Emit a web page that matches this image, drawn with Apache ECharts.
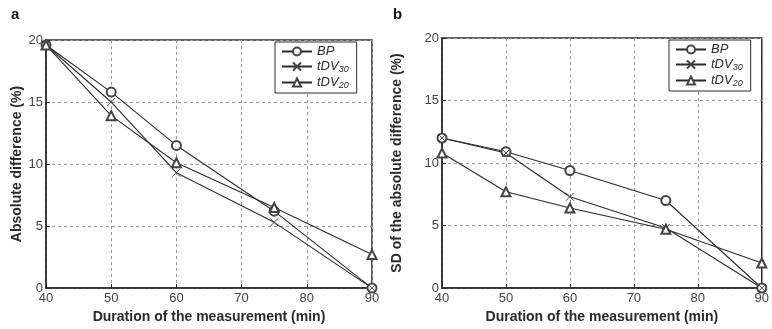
<!DOCTYPE html>
<html>
<head>
<meta charset="utf-8">
<script src="https://cdn.jsdelivr.net/npm/echarts@6/dist/echarts.min.js"></script>
<style>
  html, body { margin: 0; padding: 0; background: #fff; }
  #chart { width: 772px; height: 329px; }
</style>
</head>
<body>
<div id="chart"></div>
<script>
// durations (min) on the x axis
const durations = [40, 50, 60, 75, 90];
const seriesNames = ["BP", "tDV30", "tDV20"];

// panel a: absolute difference (%)
const absBP = [19.6, 15.8, 11.5, 6.2, 0];
const absTDV30 = [19.6, 15.0, 9.3, 5.3, 0];
const absTDV20 = [19.6, 13.9, 10.1, 6.5, 2.7];

// panel b: SD of the absolute difference (%)
const sdBP = [12.0, 10.9, 9.4, 7.0, 0];
const sdTDV30 = [12.0, 10.8, 7.3, 4.8, 0];
const sdTDV20 = [10.8, 7.7, 6.4, 4.7, 2.0];

const ink = "#2a2a2a";
const font = "Liberation Sans, Arial, sans-serif";

const crossPath = "path://M0,0L10,10M10,0L0,10";
const symbols = ["emptyCircle", crossPath, "emptyTriangle"];

const pairs = (ys) => durations.map((d, i) => [d, ys[i]]);

function makeSeries(values, idx) {
  return values.map((ys, k) => ({
    name: seriesNames[k],
    type: "line",
    xAxisIndex: idx,
    yAxisIndex: idx,
    data: pairs(ys),
    symbol: symbols[k],
    symbolSize: k === 1 ? 8 : 9,
    showSymbol: true,
    lineStyle: { color: ink, width: 1.1 },
    itemStyle: { color: "#444", borderColor: "#444", borderWidth: 1 },
    emphasis: { disabled: true },
    animation: false,
    z: 3,
  }));
}

function xAxis(idx) {
  return {
    type: "value",
    gridIndex: idx,
    min: 40,
    max: 90,
    interval: 10,
    name: "Duration of the measurement (min)",
    nameLocation: "middle",
    nameGap: 19,
    nameTextStyle: { fontFamily: font, fontWeight: "bold", fontSize: 14, color: ink },
    axisLine: { show: true, lineStyle: { color: ink, width: 1.5 } },
    axisTick: { show: true, inside: true, length: 4, lineStyle: { color: ink } },
    axisLabel: { fontFamily: font, fontSize: 13, color: "#444", margin: 4 },
    splitLine: { show: true, lineStyle: { color: "#999", type: [3, 3], width: 1 } },
  };
}

function yAxis(idx, name, gap) {
  return {
    type: "value",
    gridIndex: idx,
    min: 0,
    max: 20,
    interval: 5,
    name: name,
    nameLocation: "middle",
    nameGap: gap,
    nameTextStyle: { fontFamily: font, fontWeight: "bold", fontSize: 14, color: ink },
    axisLine: { show: true, lineStyle: { color: ink, width: 1.5 } },
    axisTick: { show: true, inside: true, length: 4, lineStyle: { color: ink } },
    axisLabel: { fontFamily: font, fontSize: 13, color: "#444", margin: 3 },
    splitLine: { show: true, lineStyle: { color: "#999", type: [3, 3], width: 1 } },
  };
}

function legend(left, top) {
  return {
    data: seriesNames,
    orient: "vertical",
    left: left,
    top: top,
    backgroundColor: "#fff",
    borderColor: ink,
    borderWidth: 1,
    borderRadius: 0,
    padding: [3, 8, 3, 6],
    itemGap: 2,
    itemWidth: 30,
    itemHeight: 10,
    selectedMode: false,
    textStyle: {
      fontFamily: font,
      fontSize: 13,
      color: ink,
      rich: {
        i: { fontFamily: font, fontSize: 13, fontStyle: "italic", color: ink },
        s: { fontFamily: font, fontSize: 9, fontStyle: "italic", color: ink, verticalAlign: "bottom", padding: [6, 0, 0, 0] },
      },
    },
    formatter: (n) => (n === "BP" ? "{i|BP}" : "{i|tDV}{s|" + n.slice(3) + "}"),
  };
}

const chart = echarts.init(document.getElementById("chart"), null, { renderer: "canvas" });

chart.setOption({
  backgroundColor: "#fff",
  animation: false,
  title: [
    { text: "a", left: 6, top: 2, textStyle: { fontFamily: font, fontWeight: "bold", fontSize: 15, color: "#111" } },
    { text: "b", left: 388, top: 2, textStyle: { fontFamily: font, fontWeight: "bold", fontSize: 15, color: "#111" } },
  ],
  grid: [
    { left: 46, right: 400, top: 40, bottom: 39, show: true, borderColor: ink, borderWidth: 1.5, backgroundColor: "transparent" },
    { left: 442, right: 4, top: 38, bottom: 41, show: true, borderColor: ink, borderWidth: 1.5, backgroundColor: "transparent" },
  ],
  xAxis: [xAxis(0), xAxis(1)],
  yAxis: [
    yAxis(0, "Absolute difference (%)", 22),
    yAxis(1, "SD of the absolute difference (%)", 38),
  ],
  legend: [legend(275, 42), legend(669, 40)],
  series: [
    ...makeSeries([absBP, absTDV30, absTDV20], 0),
    ...makeSeries([sdBP, sdTDV30, sdTDV20], 1),
  ],
});
</script>
</body>
</html>
